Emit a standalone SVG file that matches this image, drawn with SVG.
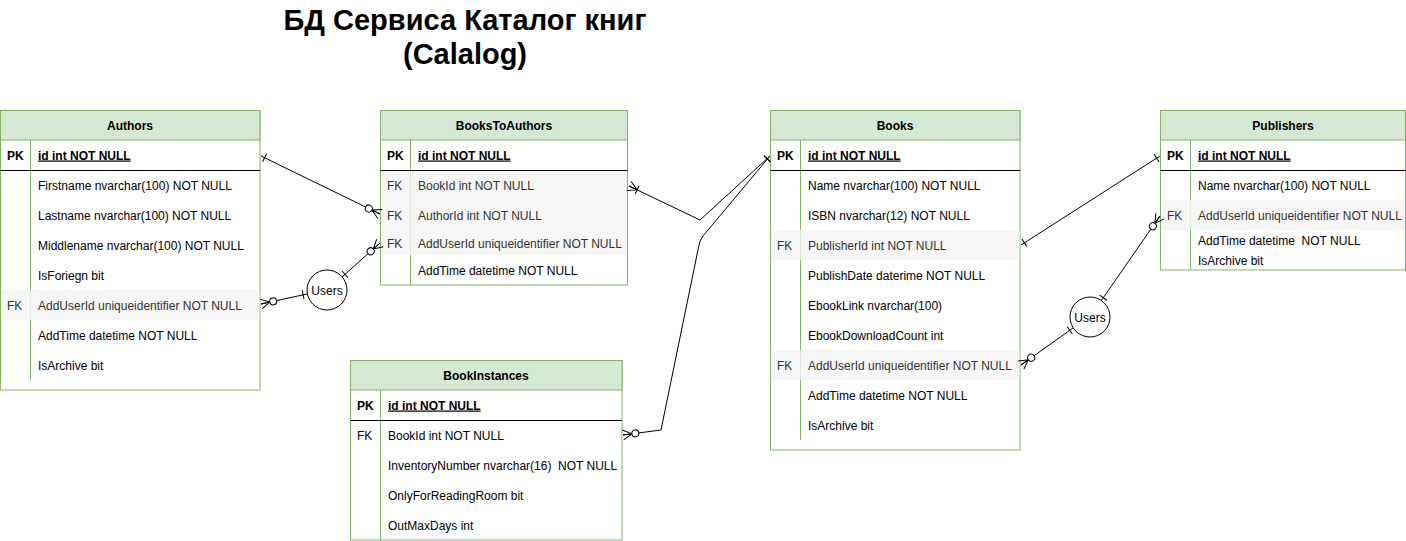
<svg xmlns="http://www.w3.org/2000/svg" width="1406" height="541" viewBox="0 0 1406 541">
<style>
.t{font-family:"Liberation Sans",Arial,sans-serif;font-size:12px;fill:#000;white-space:pre}
.b{font-weight:bold}
.u{text-decoration:underline}
.g{fill:#333333}
.c{text-anchor:middle}
.box{fill:#fff;stroke:#82b366;stroke-width:1}
.hd{fill:#d5e8d4;stroke:#82b366;stroke-width:1}
.dv{stroke:#82b366;stroke-width:1}
.pk{stroke:#000;stroke-width:1}
.gr{fill:#f5f5f5;fill-opacity:0.85}
.ttl{font-family:"Liberation Sans",Arial,sans-serif;font-size:29px;font-weight:bold;fill:#000;text-anchor:middle}
.cn{fill:none;stroke:#000;stroke-width:1}
.usr{fill:#fff;stroke:#000;stroke-width:1}
</style>
<defs>
<marker id="one" markerUnits="userSpaceOnUse" orient="auto-start-reverse" overflow="visible" markerWidth="1" markerHeight="1" refX="0" refY="0">
<path d="M-4,-4.5V4.5" stroke="#000" fill="none"/>
</marker>
<marker id="zeroMany" markerUnits="userSpaceOnUse" orient="auto-start-reverse" overflow="visible" markerWidth="1" markerHeight="1" refX="0" refY="0">
<path d="M0,-5L-9,0L0,5M0,0H-9" stroke="#000" fill="none"/>
<circle cx="-12.5" cy="0" r="3.5" fill="#fff" stroke="#000"/>
</marker>
<marker id="oneMany" markerUnits="userSpaceOnUse" orient="auto-start-reverse" overflow="visible" markerWidth="1" markerHeight="1" refX="0" refY="0">
<path d="M0,-5L-9,0L0,5M0,0H-9M-9,-4.5V4.5" stroke="#000" fill="none"/>
</marker>
</defs>
<rect width="1406" height="541" fill="#fff"/>
<g id="title">
<text class="ttl" x="465" y="30">БД Сервиса Каталог книг</text>
<text class="ttl" x="465" y="64">(Calalog)</text>
</g>

<g id="authors">
<rect class="box" x="0.5" y="110.5" width="259.5" height="279.5"/>
<rect class="hd" x="0.5" y="110.5" width="259.5" height="29.5"/>
<text class="t b c" x="130" y="129.5">Authors</text>
<line class="dv" x1="30.5" y1="140" x2="30.5" y2="380"/>
<rect class="gr" x="1" y="290" width="258.5" height="30"/>
<line class="pk" x1="0.5" y1="170.5" x2="260" y2="170.5"/>
<text class="t b" x="7" y="159.5">PK</text>
<text class="t b u" x="38" y="159.5">id int NOT NULL</text>
<text class="t" x="38" y="189.5">Firstname nvarchar(100) NOT NULL</text>
<text class="t" x="38" y="219.5">Lastname nvarchar(100) NOT NULL</text>
<text class="t" x="38" y="249.5">Middlename nvarchar(100) NOT NULL</text>
<text class="t" x="38" y="279.5">IsForiegn bit</text>
<text class="t g" x="7" y="309.5">FK</text>
<text class="t g" x="38" y="309.5">AddUserId uniqueidentifier NOT NULL</text>
<text class="t" x="38" y="339.5">AddTime datetime NOT NULL</text>
<text class="t" x="38" y="369.5">IsArchive bit</text>
</g>

<g id="bookstoauthors">
<rect class="box" x="380.5" y="110.5" width="247" height="174.5"/>
<rect class="hd" x="380.5" y="110.5" width="247" height="29.5"/>
<text class="t b c" x="504" y="129.5">BooksToAuthors</text>
<line class="dv" x1="410.5" y1="140" x2="410.5" y2="285"/>
<rect class="gr" x="381" y="171" width="246" height="84"/>
<line class="pk" x1="380.5" y1="170.5" x2="627.5" y2="170.5"/>
<text class="t b" x="387" y="159.5">PK</text>
<text class="t b u" x="418" y="159.5">id int NOT NULL</text>
<text class="t g" x="387" y="189.5">FK</text>
<text class="t g" x="418" y="189.5">BookId int NOT NULL</text>
<text class="t g" x="387" y="219.5">FK</text>
<text class="t g" x="418" y="219.5">AuthorId int NOT NULL</text>
<text class="t g" x="387" y="247.5">FK</text>
<text class="t g" x="418" y="247.5">AddUserId uniqueidentifier NOT NULL</text>
<text class="t" x="418" y="274.5">AddTime datetime NOT NULL</text>
</g>

<g id="books">
<rect class="box" x="770.5" y="110.5" width="249.5" height="339.5"/>
<rect class="hd" x="770.5" y="110.5" width="249.5" height="29.5"/>
<text class="t b c" x="895" y="129.5">Books</text>
<line class="dv" x1="800.5" y1="140" x2="800.5" y2="440"/>
<rect class="gr" x="771" y="230" width="248.5" height="30"/>
<rect class="gr" x="771" y="350" width="248.5" height="30"/>
<line class="pk" x1="770.5" y1="170.5" x2="1020" y2="170.5"/>
<text class="t b" x="777" y="159.5">PK</text>
<text class="t b u" x="808" y="159.5">id int NOT NULL</text>
<text class="t" x="808" y="189.5">Name nvarchar(100) NOT NULL</text>
<text class="t" x="808" y="219.5">ISBN nvarchar(12) NOT NULL</text>
<text class="t g" x="777" y="249.5">FK</text>
<text class="t g" x="808" y="249.5">PublisherId int NOT NULL</text>
<text class="t" x="808" y="279.5">PublishDate daterime NOT NULL</text>
<text class="t" x="808" y="309.5">EbookLink nvarchar(100)</text>
<text class="t" x="808" y="339.5">EbookDownloadCount int</text>
<text class="t g" x="777" y="369.5">FK</text>
<text class="t g" x="808" y="369.5">AddUserId uniqueidentifier NOT NULL</text>
<text class="t" x="808" y="399.5">AddTime datetime NOT NULL</text>
<text class="t" x="808" y="429.5">IsArchive bit</text>
</g>

<g id="publishers">
<rect class="box" x="1160.5" y="110.5" width="245" height="159.5"/>
<rect class="hd" x="1160.5" y="110.5" width="245" height="29.5"/>
<text class="t b c" x="1283" y="129.5">Publishers</text>
<line class="dv" x1="1190.5" y1="140" x2="1190.5" y2="270"/>
<rect class="gr" x="1161" y="200" width="244" height="30"/>
<line class="pk" x1="1160.5" y1="170.5" x2="1405.5" y2="170.5"/>
<text class="t b" x="1167" y="159.5">PK</text>
<text class="t b u" x="1198" y="159.5">id int NOT NULL</text>
<text class="t" x="1198" y="189.5">Name nvarchar(100) NOT NULL</text>
<text class="t g" x="1167" y="219.5">FK</text>
<text class="t g" x="1198" y="219.5">AddUserId uniqueidentifier NOT NULL</text>
<text class="t" x="1198" y="244.5">AddTime datetime  NOT NULL</text>
<text class="t" x="1198" y="264.5">IsArchive bit</text>
</g>

<g id="bookinstances">
<rect class="box" x="350.5" y="360.5" width="271.5" height="179.5"/>
<rect class="hd" x="350.5" y="360.5" width="271.5" height="29.5"/>
<text class="t b c" x="486" y="379.5">BookInstances</text>
<line class="dv" x1="380.5" y1="390" x2="380.5" y2="540"/>
<line class="pk" x1="350.5" y1="420.5" x2="622" y2="420.5"/>
<text class="t b" x="357" y="409.5">PK</text>
<text class="t b u" x="388" y="409.5">id int NOT NULL</text>
<text class="t" x="357" y="439.5">FK</text>
<text class="t" x="388" y="439.5">BookId int NOT NULL</text>
<text class="t" x="388" y="469.5">InventoryNumber nvarchar(16)  NOT NULL</text>
<text class="t" x="388" y="499.5">OnlyForReadingRoom bit</text>
<text class="t" x="388" y="529.5">OutMaxDays int</text>
</g>

<g id="users1">
<circle class="usr" cx="327" cy="290" r="20"/>
<text class="t c" x="327" y="294.5">Users</text>
</g>
<g id="users2">
<circle class="usr" cx="1090" cy="317" r="20"/>
<text class="t c" x="1090" y="321.5">Users</text>
</g>

<g id="connectors">
<path class="cn" d="M261,156L380,214" marker-start="url(#one)" marker-end="url(#zeroMany)"/>
<path class="cn" d="M342,277L380,243" marker-start="url(#one)" marker-end="url(#zeroMany)"/>
<path class="cn" d="M307,294L261,304" marker-start="url(#one)" marker-end="url(#zeroMany)"/>
<path class="cn" d="M770,156L700,220L629,186" marker-start="url(#one)" marker-end="url(#oneMany)"/>
<path class="cn" d="M770,156L703,236Q700,240 699,245L661,430L623,435" marker-start="url(#one)" marker-end="url(#zeroMany)"/>
<path class="cn" d="M1021,245L1160,156" marker-start="url(#one)" marker-end="url(#one)"/>
<path class="cn" d="M1073,328L1021,365" marker-start="url(#one)" marker-end="url(#zeroMany)"/>
<path class="cn" d="M1101,301L1160,216" marker-start="url(#one)" marker-end="url(#zeroMany)"/>
</g>
</svg>
